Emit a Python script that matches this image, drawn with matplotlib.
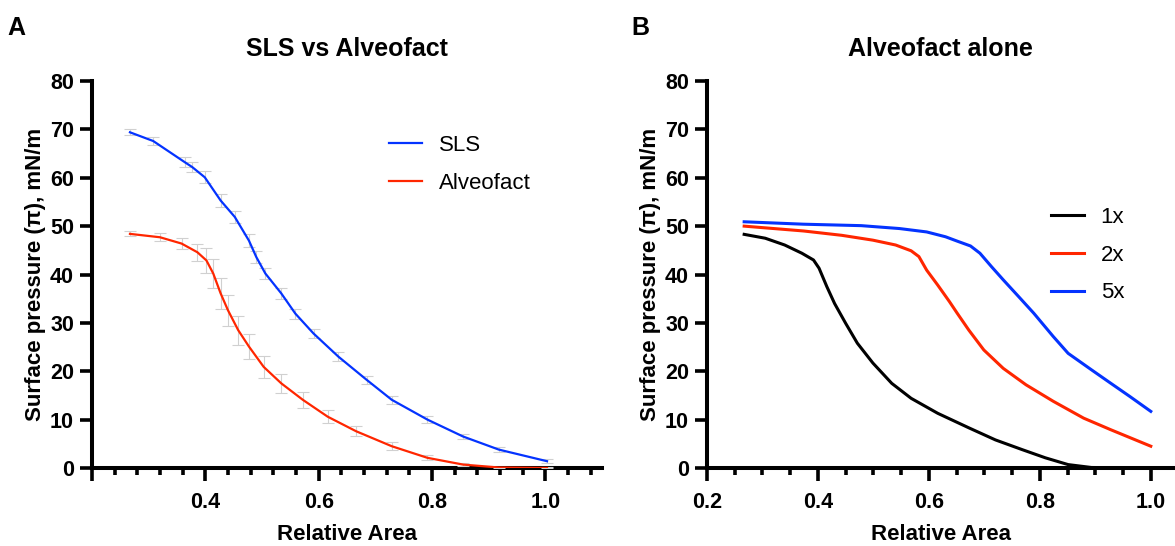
import numpy as np
import matplotlib
matplotlib.use("Agg")
import matplotlib.pyplot as plt
from matplotlib.ticker import MultipleLocator

plt.rcParams['font.family'] = ['Liberation Sans', 'DejaVu Sans']

# panel A: SLS vs Alveofact (mean +/- error)
sls_x = [0.267, 0.308, 0.364, 0.377, 0.399, 0.427, 0.452, 0.477, 0.490, 0.506,
         0.534, 0.559, 0.591, 0.635, 0.685, 0.729, 0.792, 0.855, 0.918, 1.003]
sls_y = [69.4, 67.6, 63.2, 62.2, 60.1, 55.3, 51.9, 47.0, 43.6, 40.2,
         36.1, 31.9, 27.8, 23.0, 18.2, 14.1, 10.0, 6.5, 3.8, 1.4]
sls_err = [0.6, 0.8, 1.0, 1.0, 1.2, 1.3, 1.3, 1.3, 1.2, 1.2,
           1.1, 1.0, 1.0, 0.9, 0.9, 0.8, 0.7, 0.6, 0.5, 0.4]

alv_x = [0.267, 0.320, 0.358, 0.386, 0.402, 0.414, 0.427, 0.440, 0.458, 0.477,
         0.503, 0.534, 0.572, 0.616, 0.666, 0.729, 0.792, 0.855, 0.918, 1.003]
alv_y = [48.4, 47.7, 46.4, 44.6, 42.9, 40.2, 36.1, 32.6, 28.5, 25.1,
         20.9, 17.5, 14.1, 10.6, 7.6, 4.5, 2.1, 0.7, 0.1, 0.0]
alv_err = [0.5, 0.8, 1.2, 1.8, 2.5, 3.0, 3.2, 3.2, 3.0, 2.6,
           2.2, 1.9, 1.6, 1.3, 1.0, 0.8, 0.5, 0.3, 0.2, 0.1]

# panel B: Alveofact alone at 1x, 2x, 5x
x1 = [0.267, 0.305, 0.340, 0.371, 0.392, 0.402, 0.416, 0.430, 0.450, 0.471, 0.499,
      0.533, 0.568, 0.616, 0.672, 0.720, 0.768, 0.810, 0.851, 0.893, 1.000]
y1 = [48.3, 47.5, 46.1, 44.4, 43.0, 41.3, 37.5, 34.0, 29.9, 25.8, 21.7,
      17.5, 14.4, 11.3, 8.3, 5.8, 3.8, 2.1, 0.7, 0.1, 0.0]

x2 = [0.267, 0.374, 0.443, 0.499, 0.540, 0.568, 0.582, 0.596, 0.616, 0.637,
      0.651, 0.672, 0.699, 0.734, 0.775, 0.824, 0.879, 0.928, 1.000]
y2 = [50.0, 49.0, 48.1, 47.1, 46.1, 44.9, 43.7, 40.9, 37.8, 34.4,
      32.0, 28.5, 24.4, 20.6, 17.2, 13.8, 10.3, 7.9, 4.5]

x5 = [0.267, 0.374, 0.478, 0.547, 0.596, 0.630, 0.651, 0.675, 0.692, 0.713,
      0.734, 0.762, 0.789, 0.824, 0.851, 0.893, 0.928, 0.962, 1.000]
y5 = [50.9, 50.4, 50.1, 49.5, 48.8, 47.8, 46.9, 45.9, 44.4, 41.6,
      38.9, 35.4, 32.0, 27.2, 23.7, 20.3, 17.5, 14.8, 11.7]

BLUE = '#0433FF'
RED = '#FF2600'

fig = plt.figure(figsize=(11.75, 5.46), dpi=100)
axA = fig.add_axes([0.0783, 0.1429, 0.434, 0.7087])
axB = fig.add_axes([0.6017, 0.1429, 0.398, 0.7087])


def style_axes(ax, minor_step):
    for s in ['top', 'right']:
        ax.spines[s].set_visible(False)
    for s in ['left', 'bottom']:
        ax.spines[s].set_linewidth(2.9)
    ax.set_ylim(0, 80)
    ax.yaxis.set_major_locator(MultipleLocator(10))
    ax.xaxis.set_major_locator(MultipleLocator(0.2))
    ax.xaxis.set_minor_locator(MultipleLocator(minor_step))
    ax.tick_params(axis='both', which='major', length=9, width=2.6,
                   labelsize=15.5, pad=4)
    ax.tick_params(axis='x', which='minor', length=5, width=2.6)
    ax.tick_params(axis='x', which='major', pad=8)
    for lab in ax.get_xticklabels() + ax.get_yticklabels():
        lab.set_fontweight('bold')
    ax.set_xlabel('Relative Area', fontsize=16, fontweight='bold', labelpad=8)
    ax.set_ylabel('Surface pressure (π), mN/m', fontsize=16,
                  fontweight='bold', labelpad=3)


# Panel A
axA.errorbar(sls_x, sls_y, yerr=sls_err, color=BLUE, lw=1.6, ecolor='#d0d0d0',
             elinewidth=0.8, capsize=4, capthick=0.8, label='SLS', zorder=3)
axA.errorbar(alv_x, alv_y, yerr=alv_err, color=RED, lw=1.6, ecolor='#d0d0d0',
             elinewidth=0.8, capsize=4, capthick=0.8, label='Alveofact', zorder=3)
axA.set_xlim(0.2, 1.1)
style_axes(axA, 0.04)
axA.set_xticks([0.2, 0.4, 0.6, 0.8, 1.0])
axA.set_xticklabels(['', '0.4', '0.6', '0.8', '1.0'], fontweight='bold')
axA.set_title('SLS vs Alveofact', fontsize=18, fontweight='bold', pad=18)
hA, lA = axA.get_legend_handles_labels()
hA = [h[0] for h in hA]
axA.legend(hA, lA, loc='upper left', bbox_to_anchor=(0.543, 0.912), frameon=False,
           fontsize=16, handlelength=1.5, handletextpad=0.75, labelspacing=0.75)

# Panel B
axB.plot(x1, y1, color='black', lw=2.2, label='1x')
axB.plot(x2, y2, color=RED, lw=2.2, label='2x')
axB.plot(x5, y5, color=BLUE, lw=2.2, label='5x')
axB.set_xlim(0.2, 1.043)
style_axes(axB, 0.05)
axB.set_xticks([0.2, 0.4, 0.6, 0.8, 1.0])
axB.set_xticklabels(['0.2', '0.4', '0.6', '0.8', '1.0'], fontweight='bold')
axB.set_title('Alveofact alone', fontsize=18, fontweight='bold', pad=18)
axB.legend(loc='upper left', bbox_to_anchor=(0.692, 0.726), frameon=False,
           fontsize=16, handlelength=1.5, handletextpad=0.75, labelspacing=0.75)

fig.text(0.006, 0.948, 'A', fontsize=18, fontweight='bold', va='center')
fig.text(0.537, 0.948, 'B', fontsize=18, fontweight='bold', va='center')

fig.savefig('out.png', dpi=100)
